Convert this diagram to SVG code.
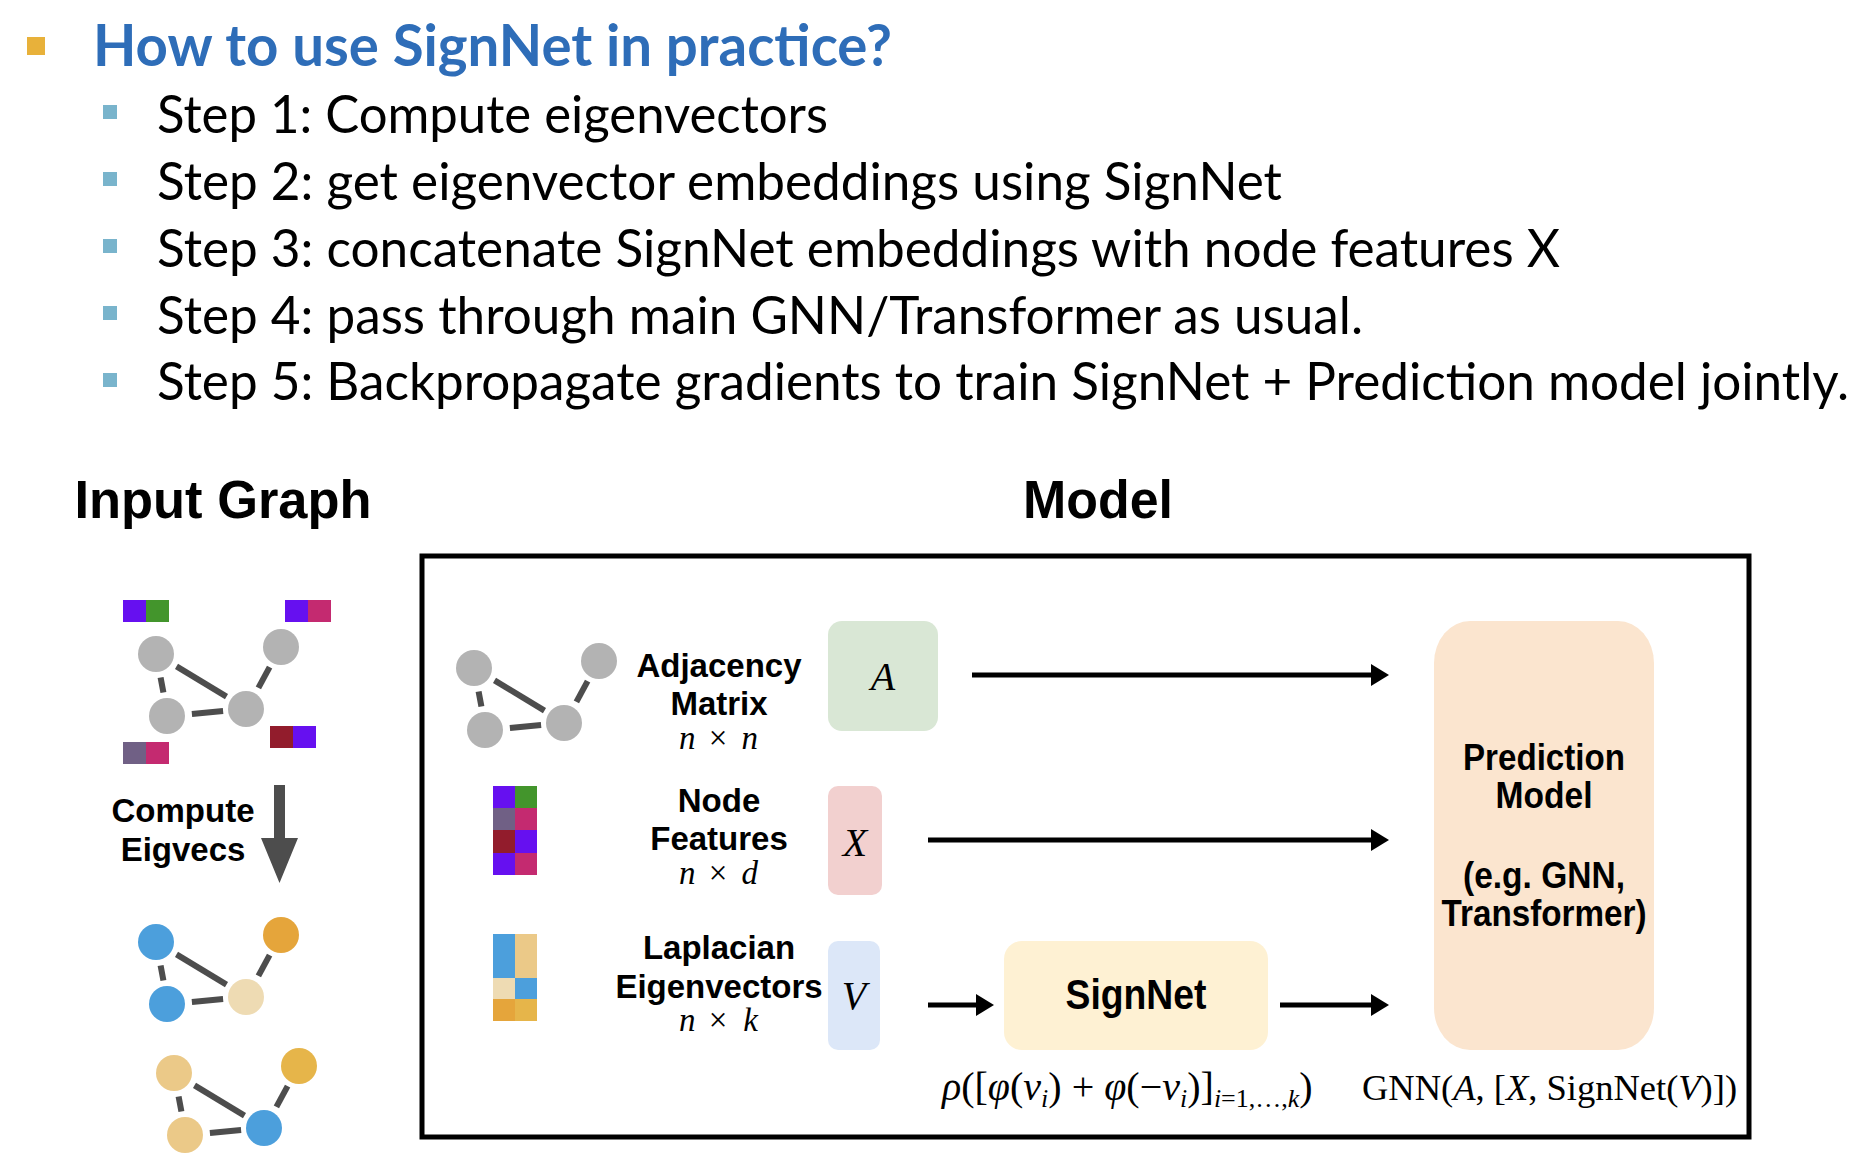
<svg xmlns="http://www.w3.org/2000/svg" xmlns:xlink="http://www.w3.org/1999/xlink" width="1876" height="1168" viewBox="0 0 1876 1168">
<style>
.title{font-family:Lato,"Open Sans",sans-serif;font-weight:bold;fill:#2E6DB8;font-size:58px}
.step{font-family:Lato,"Open Sans",sans-serif;fill:#000;font-size:52px}
.head{font-family:"Liberation Sans",Arial,sans-serif;font-weight:bold;fill:#000;font-size:53px;text-anchor:middle}
.lbl{font-family:"Liberation Sans",Arial,sans-serif;font-weight:bold;fill:#000;font-size:33px;text-anchor:middle}
.pm{font-family:"Liberation Sans",Arial,sans-serif;font-weight:bold;fill:#000;font-size:36px;text-anchor:middle}
.math{font-family:"Liberation Serif","Times New Roman",serif;fill:#000}
.dim{font-family:"Liberation Serif","Times New Roman",serif;fill:#000;font-size:33px}
.it{font-style:italic}
.edge{stroke:#4D4D4D;stroke-width:6;fill:none}
.conn{stroke:#000;stroke-width:5;fill:none}
.gray{fill:#B3B3B3}
</style>
<defs>
<marker id="ah" markerUnits="userSpaceOnUse" markerWidth="18" markerHeight="22" refX="0" refY="11" orient="auto" viewBox="0 0 18 22">
<path d="M0,0 L18,11 L0,22 Z" fill="#000"/>
</marker>
<g id="gEdges">
<line class="edge" x1="4.6" y1="23.5" x2="7.4" y2="38.5"/>
<line class="edge" x1="20.5" y1="12.4" x2="70.5" y2="42.6"/>
<line class="edge" x1="35.9" y1="59.9" x2="67.1" y2="57.1"/>
<line class="edge" x1="102.4" y1="33.9" x2="113.6" y2="13.1"/>
</g>
</defs>
<rect width="1876" height="1168" fill="#fff"/>

<g id="header">
<rect x="27" y="37" width="18" height="18" fill="#E8B13A"/>
<text class="title" x="93" y="66" textLength="799" lengthAdjust="spacingAndGlyphs">How to use SignNet in practice?</text>
<g fill="#79B4CC">
<rect x="103" y="105" width="14" height="14"/>
<rect x="103" y="172" width="14" height="14"/>
<rect x="103" y="239" width="14" height="14"/>
<rect x="103" y="306" width="14" height="14"/>
<rect x="103" y="373" width="14" height="14"/>
</g>
<text class="step" x="157" y="133" textLength="671" lengthAdjust="spacingAndGlyphs">Step 1: Compute eigenvectors</text>
<text class="step" x="157" y="200" textLength="1125" lengthAdjust="spacingAndGlyphs">Step 2: get eigenvector embeddings using SignNet</text>
<text class="step" x="157" y="267" textLength="1403" lengthAdjust="spacingAndGlyphs">Step 3: concatenate SignNet embeddings with node features X</text>
<text class="step" x="157" y="334" textLength="1206" lengthAdjust="spacingAndGlyphs">Step 4: pass through main GNN/Transformer as usual.</text>
<text class="step" x="157" y="400" textLength="1692" lengthAdjust="spacingAndGlyphs">Step 5: Backpropagate gradients to train SignNet + Prediction model jointly.</text>
</g>

<g id="input-graph-heading"><text class="head" x="223" y="518" textLength="297" lengthAdjust="spacingAndGlyphs">Input Graph</text></g>
<g id="model-heading"><text class="head" x="1098" y="518" textLength="150" lengthAdjust="spacingAndGlyphs">Model</text></g>

<g id="input-graph">
<g transform="translate(156,654)">
<use xlink:href="#gEdges" href="#gEdges"/>
<circle class="gray" cx="0" cy="0" r="18"/>
<circle class="gray" cx="125" cy="-7" r="18"/>
<circle class="gray" cx="11" cy="62" r="18"/>
<circle class="gray" cx="90" cy="55" r="18"/>
</g>
<rect x="123" y="600" width="23" height="22" fill="#6610F0"/><rect x="146" y="600" width="23" height="22" fill="#43952C"/>
<rect x="285" y="600" width="23" height="22" fill="#6610F0"/><rect x="308" y="600" width="23" height="22" fill="#C42A70"/>
<rect x="123" y="742" width="23" height="22" fill="#706085"/><rect x="146" y="742" width="23" height="22" fill="#C42A70"/>
<rect x="270" y="726" width="23" height="22" fill="#921C2C"/><rect x="293" y="726" width="23" height="22" fill="#6610F0"/>
</g>

<g id="compute-eigvecs">
<text class="lbl" x="183" y="822">Compute</text>
<text class="lbl" x="183" y="861">Eigvecs</text>
<polygon points="274,785 285,785 285,838 298,838 279.5,883 261,838 274,838" fill="#4D4D4D"/>
</g>

<g id="eigvec-graph-1" transform="translate(156,942)">
<use xlink:href="#gEdges" href="#gEdges"/>
<circle cx="0" cy="0" r="18" fill="#4C9FDC"/>
<circle cx="125" cy="-7" r="18" fill="#E5A53B"/>
<circle cx="11" cy="62" r="18" fill="#4C9FDC"/>
<circle cx="90" cy="55" r="18" fill="#EEDBB3"/>
</g>
<g id="eigvec-graph-2" transform="translate(174,1073)">
<use xlink:href="#gEdges" href="#gEdges"/>
<circle cx="0" cy="0" r="18" fill="#EBC988"/>
<circle cx="125" cy="-7" r="18" fill="#E6B54A"/>
<circle cx="11" cy="62" r="18" fill="#EBC988"/>
<circle cx="90" cy="55" r="18" fill="#4C9FDC"/>
</g>

<g id="model-box"><rect x="422" y="556" width="1327" height="581" fill="none" stroke="#000" stroke-width="5"/></g>

<g id="adjacency">
<g transform="translate(474,668)">
<use xlink:href="#gEdges" href="#gEdges"/>
<circle class="gray" cx="0" cy="0" r="18"/>
<circle class="gray" cx="125" cy="-7" r="18"/>
<circle class="gray" cx="11" cy="62" r="18"/>
<circle class="gray" cx="90" cy="55" r="18"/>
</g>
<text class="lbl" x="719" y="677">Adjacency</text>
<text class="lbl" x="719" y="715">Matrix</text>
<text class="dim it" x="679" y="749">n</text>
<text class="dim" x="718" y="749" text-anchor="middle">×</text>
<text class="dim it" x="758" y="749" text-anchor="end">n</text>
</g>
<g id="A-box">
<rect x="828" y="621" width="110" height="110" rx="14" fill="#D9E7D5"/>
<text class="math it" x="883" y="690" font-size="40" text-anchor="middle">A</text>
</g>

<g id="node-features">
<rect x="493" y="786" width="22" height="22" fill="#6610F0"/><rect x="515" y="786" width="22" height="22" fill="#43952C"/>
<rect x="493" y="808" width="22" height="22" fill="#706085"/><rect x="515" y="808" width="22" height="22" fill="#C42A70"/>
<rect x="493" y="830" width="22" height="23" fill="#921C2C"/><rect x="515" y="830" width="22" height="23" fill="#6610F0"/>
<rect x="493" y="853" width="22" height="22" fill="#6610F0"/><rect x="515" y="853" width="22" height="22" fill="#C42A70"/>
<text class="lbl" x="719" y="812">Node</text>
<text class="lbl" x="719" y="850">Features</text>
<text class="dim it" x="679" y="884">n</text>
<text class="dim" x="718" y="884" text-anchor="middle">×</text>
<text class="dim it" x="758" y="884" text-anchor="end">d</text>
</g>
<g id="X-box">
<rect x="828" y="786" width="54" height="109" rx="10" fill="#F2D0CF"/>
<text class="math it" x="855" y="856" font-size="40" text-anchor="middle">X</text>
</g>

<g id="laplacian">
<rect x="493" y="934" width="22" height="44" fill="#4C9FDC"/><rect x="515" y="934" width="22" height="44" fill="#EBC988"/>
<rect x="493" y="978" width="22" height="21" fill="#EEDBB3"/><rect x="515" y="978" width="22" height="21" fill="#4C9FDC"/>
<rect x="493" y="999" width="22" height="22" fill="#E5A53B"/><rect x="515" y="999" width="22" height="22" fill="#E6B54A"/>
<text class="lbl" x="719" y="959">Laplacian</text>
<text class="lbl" x="719" y="998">Eigenvectors</text>
<text class="dim it" x="679" y="1031">n</text>
<text class="dim" x="718" y="1031" text-anchor="middle">×</text>
<text class="dim it" x="758" y="1031" text-anchor="end">k</text>
</g>
<g id="V-box">
<rect x="828" y="941" width="52" height="109" rx="10" fill="#DCE7F8"/>
<text class="math it" x="854" y="1009" font-size="40" text-anchor="middle">V</text>
</g>

<g id="signnet">
<rect x="1004" y="941" width="264" height="109" rx="18" fill="#FEF1D3"/>
<text class="lbl" x="1136" y="1009" style="font-size:42px" textLength="141" lengthAdjust="spacingAndGlyphs">SignNet</text>
<text class="math" x="942" y="1100" font-size="40"><tspan class="it">ρ</tspan>([<tspan class="it">φ</tspan>(<tspan class="it">v</tspan><tspan class="it" font-size="26" dy="7">i</tspan><tspan dy="-7">) + </tspan><tspan class="it">φ</tspan>(−<tspan class="it">v</tspan><tspan class="it" font-size="26" dy="7">i</tspan><tspan dy="-7">)]</tspan><tspan font-size="26" dy="7"><tspan class="it">i</tspan>=1,…,<tspan class="it">k</tspan></tspan><tspan dy="-7">)</tspan></text>
</g>

<g id="prediction-model">
<rect x="1434" y="621" width="220" height="429" rx="36" ry="42" fill="#FBE5CF"/>
<text class="pm" x="1544" y="770" textLength="162" lengthAdjust="spacingAndGlyphs">Prediction</text>
<text class="pm" x="1544" y="808" textLength="97" lengthAdjust="spacingAndGlyphs">Model</text>
<text class="pm" x="1544" y="888" textLength="162" lengthAdjust="spacingAndGlyphs">(e.g. GNN,</text>
<text class="pm" x="1544" y="926" textLength="205" lengthAdjust="spacingAndGlyphs">Transformer)</text>
<text class="math" x="1362" y="1100" font-size="36.5">GNN(<tspan class="it">A</tspan>, [<tspan class="it">X</tspan>, SignNet(<tspan class="it">V</tspan>)])</text>
</g>

<g id="connectors">
<line class="conn" x1="972" y1="675" x2="1371" y2="675" marker-end="url(#ah)"/>
<line class="conn" x1="928" y1="840" x2="1371" y2="840" marker-end="url(#ah)"/>
<line class="conn" x1="928" y1="1005" x2="976" y2="1005" marker-end="url(#ah)"/>
<line class="conn" x1="1280" y1="1005" x2="1371" y2="1005" marker-end="url(#ah)"/>
</g>
</svg>
